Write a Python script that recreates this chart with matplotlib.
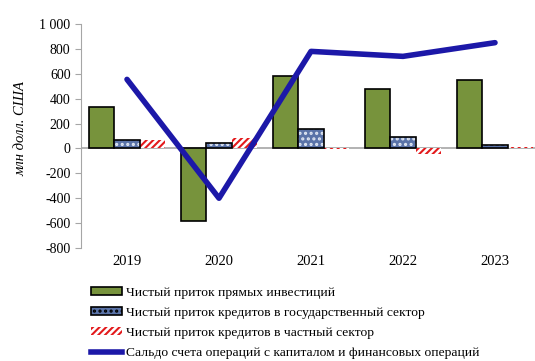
import numpy as np
import matplotlib.pyplot as plt
from matplotlib.patches import Patch
from matplotlib.lines import Line2D

years = ["2019", "2020", "2021", "2022", "2023"]
fdi = [335, -580, 580, 480, 550]
gov_loans = [65, 40, 160, 90, 30]
priv_loans = [68, 85, -3, -45, 8]
balance = [555, -400, 780, 740, 850]

yticks = [1000, 800, 600, 400, 200, 0, -200, -400, -600, -800]
ytick_labels = ["1 000", "800", "600", "400", "200", "0", "-200", "-400", "-600", "-800"]

labels = ["Чистый приток прямых инвестиций",
          "Чистый приток кредитов в государственный сектор",
          "Чистый приток кредитов в частный сектор",
          "Сальдо счета операций с капиталом и финансовых операций"]

plt.rcParams['font.family'] = ['Liberation Serif', 'DejaVu Serif']
plt.rcParams['hatch.linewidth'] = 1.5

green = '#77933c'
blue_fill = '#5a73a8'
red = '#e31a1c'
line_col = '#1c18a8'

fig = plt.figure(figsize=(5.35, 3.61), dpi=100)
W, H = 535, 361
ax = fig.add_axes([81 / W, 1 - 248 / H, (535 - 81) / W, (248 - 24) / H])

x = np.arange(len(years))
w = 0.275

ax.bar(x - w, fdi, w, color=green, edgecolor='black', linewidth=1.2, zorder=3)
# dotted bars: hatch first, then outline on top
ax.bar(x, gov_loans, w, color=blue_fill, edgecolor='#dfe6f2', hatch='...', linewidth=0, zorder=3)
ax.bar(x, gov_loans, w, fill=False, edgecolor='black', linewidth=1.2, zorder=4)
ax.bar(x + w, priv_loans, w, color='white', edgecolor=red, hatch='/////', linewidth=0, zorder=3)

ax.plot(x, balance, color=line_col, linewidth=4, solid_capstyle='round', zorder=5)

ax.axhline(0, color='#a6a6a6', linewidth=1.2, zorder=2)

ax.set_xlim(-0.5, (535 - 81) / 92 - 0.5)
ax.set_ylim(-800, 1000)
ax.set_yticks(yticks)
ax.set_yticklabels(ytick_labels)
ax.set_xticks(x)
ax.set_xticklabels(years)
ax.tick_params(axis='x', length=0, pad=5, labelsize=10.5)
ax.tick_params(axis='y', length=4, color='#a6a6a6', labelsize=10)
for s in ['top', 'right', 'bottom']:
    ax.spines[s].set_visible(False)
ax.spines['left'].set_color('#a6a6a6')
ax.set_ylabel("млн долл. США", fontstyle='italic', fontsize=10.5)
ax.yaxis.set_label_coords((27 - 81) / (535 - 81), (248 - 129) / (248 - 24))

handles = [
    Patch(facecolor=green, edgecolor='black', linewidth=1.2),
    Patch(facecolor=blue_fill, edgecolor='black', hatch='...', linewidth=1.2),
    Patch(facecolor='white', edgecolor=red, hatch='/////', linewidth=0),
    Line2D([0], [0], color=line_col, linewidth=4),
]
fig.legend(handles, labels, loc='upper left', bbox_to_anchor=(91 / W, 1 - 287 / H),
           frameon=False, fontsize=9.7, handlelength=2.3, handleheight=0.55,
           handletextpad=0.3, labelspacing=0.6, borderaxespad=0, borderpad=0)

fig.savefig("out.png", dpi=100)
